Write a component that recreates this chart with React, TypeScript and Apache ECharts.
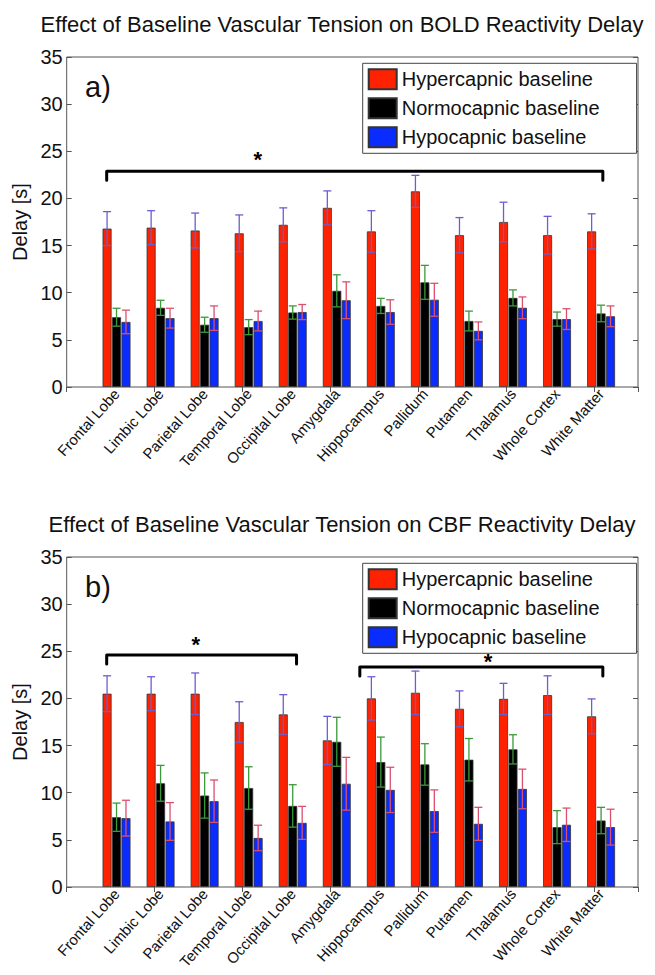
import React, { useEffect, useRef } from 'react';
import * as echarts from 'echarts';

const categories = [
  'Frontal Lobe', 'Limbic Lobe', 'Parietal Lobe', 'Temporal Lobe', 'Occipital Lobe', 'Amygdala',
  'Hippocampus', 'Pallidum', 'Putamen', 'Thalamus', 'Whole Cortex', 'White Matter',
];
const seriesNames = ['Hypercapnic baseline', 'Normocapnic baseline', 'Hypocapnic baseline'];

// Panel a) BOLD reactivity delay [s]
const boldHyper = [16.8, 16.9, 16.6, 16.3, 17.2, 19.0, 16.5, 20.75, 16.1, 17.5, 16.1, 16.5];
const boldHyperErr = [1.8, 1.8, 1.85, 1.95, 1.8, 1.8, 2.2, 1.7, 1.87, 2.1, 2.0, 1.87];
const boldNormo = [7.4, 8.4, 6.6, 6.35, 7.9, 10.2, 8.6, 11.1, 7.0, 9.45, 7.2, 7.8];
const boldNormoErr = [0.95, 0.8, 0.8, 0.8, 0.7, 1.7, 0.8, 1.8, 1.05, 0.85, 0.75, 0.88];
const boldHypo = [6.9, 7.3, 7.3, 7.0, 7.95, 9.2, 7.95, 9.25, 5.95, 8.4, 7.2, 7.5];
const boldHypoErr = [1.25, 1.05, 1.3, 1.05, 0.8, 1.95, 1.3, 1.75, 0.95, 1.15, 1.1, 1.1];

// Panel b) CBF reactivity delay [s]
const cbfHyper = [20.5, 20.5, 20.5, 17.5, 18.3, 15.55, 20.0, 20.6, 18.9, 19.95, 20.35, 18.1];
const cbfHyperErr = [1.9, 1.8, 2.2, 2.15, 2.1, 2.55, 2.3, 2.3, 1.9, 1.65, 2.05, 1.85];
const cbfNormo = [7.4, 11.0, 9.7, 10.5, 8.6, 15.4, 13.25, 13.0, 13.5, 14.6, 6.35, 7.05];
const cbfNormoErr = [1.5, 1.9, 2.4, 2.25, 2.25, 2.6, 2.65, 2.2, 2.25, 1.55, 1.75, 1.4];
const cbfHypo = [7.3, 6.95, 9.1, 5.2, 6.8, 10.95, 10.3, 8.05, 6.7, 10.4, 6.6, 6.35];
const cbfHypoErr = [1.9, 2.0, 2.25, 1.35, 1.75, 2.8, 2.4, 2.25, 1.75, 2.1, 1.77, 1.9];

// significance brackets: [xStart, xEnd, level] in frame units (0..13)
const boldBrackets = [[0.91, 12.2, 22.87]];
const cbfBrackets = [[0.91, 5.23, 24.6], [6.67, 12.2, 23.33]];
// significance stars: [x, y] in frame units
const boldStars = [[4.35, 24.1]];
const cbfStars = [[2.94, 25.7], [9.59, 23.9]];

const FONT = '"Liberation Sans", Arial, Helvetica, sans-serif';
const NARROW = '"Liberation Sans Narrow", "Arial Narrow", "Liberation Sans", sans-serif';
const barColors = ['#ff2200', '#000000', '#0a2cff'];
const errColors = ['#6a5fd0', '#3a9a3a', '#d9506f'];

const panels = [
  {
    title: 'Effect of Baseline Vascular Tension on BOLD Reactivity Delay',
    tag: 'a)',
    values: [boldHyper, boldNormo, boldHypo],
    errs: [boldHyperErr, boldNormoErr, boldHypoErr],
    brackets: boldBrackets,
    stars: boldStars,
    dy: 0,
  },
  {
    title: 'Effect of Baseline Vascular Tension on CBF Reactivity Delay',
    tag: 'b)',
    values: [cbfHyper, cbfNormo, cbfHypo],
    errs: [cbfHyperErr, cbfNormoErr, cbfHypoErr],
    brackets: cbfBrackets,
    stars: cbfStars,
    dy: 500,
  },
];

function buildOption() {
  const grid: any[] = [];
  const xAxis: any[] = [];
  const yAxis: any[] = [];
  const series: any[] = [];
  const legend: any[] = [];
  const graphic: any[] = [];

  panels.forEach((p) => {
    const top = 57 + p.dy;
    const gFrame = grid.length;
    grid.push({ left: 66.7, top, width: 571.3, height: 330, show: true, borderColor: '#555', borderWidth: 1, backgroundColor: 'transparent', containLabel: false, outerBoundsMode: 'none' });
    grid.push({ left: 94.5, top, width: 528.6, height: 330, containLabel: false, outerBoundsMode: 'none' });

    const xFrame = xAxis.length;
    xAxis.push({
      gridIndex: gFrame, type: 'value', min: 0, max: 13, interval: 2, position: 'top',
      axisLine: { show: false },
      axisTick: { show: true, inside: true, length: 5, lineStyle: { color: '#555' } },
      axisLabel: { show: false }, splitLine: { show: false },
    });
    xAxis.push({
      gridIndex: gFrame + 1, type: 'category', data: categories,
      axisLine: { show: false }, axisTick: { show: false },
      axisLabel: { rotate: 48, fontSize: 15, fontFamily: NARROW, color: '#111', margin: 4, interval: 0 },
    });

    const yFrame = yAxis.length;
    yAxis.push({
      gridIndex: gFrame, type: 'value', min: 0, max: 35, interval: 5,
      axisLine: { show: false },
      axisTick: { show: true, inside: true, length: 5, lineStyle: { color: '#555' } },
      axisLabel: { fontSize: 20, fontFamily: FONT, color: '#111', margin: 4 },
      splitLine: { show: false },
      name: 'Delay [s]', nameLocation: 'middle', nameGap: 35, nameRotate: 90,
      nameTextStyle: { fontSize: 20, fontFamily: FONT, color: '#111' },
    });
    yAxis.push({
      gridIndex: gFrame, type: 'value', position: 'right', min: 0, max: 35, interval: 5,
      axisLine: { show: false },
      axisTick: { show: true, inside: true, length: 5, lineStyle: { color: '#555' } },
      axisLabel: { show: false }, splitLine: { show: false },
    });
    yAxis.push({ gridIndex: gFrame + 1, type: 'value', min: 0, max: 35, show: false });

    p.values.forEach((vals, s) => {
      series.push({
        type: 'bar', name: seriesNames[s], xAxisIndex: xFrame + 1, yAxisIndex: yFrame + 2,
        data: vals, barWidth: 9, barGap: '5%',
        itemStyle: { color: barColors[s], borderColor: '#333', borderWidth: 0.8 },
        z: 2,
      });
    });
    p.values.forEach((vals, s) => {
      const errs = p.errs[s];
      const offset = (s - 1) * 9.45;
      const color = errColors[s];
      series.push({
        type: 'custom', xAxisIndex: xFrame + 1, yAxisIndex: yFrame + 2, silent: true, z: 3,
        data: vals.map((v, i) => [i, v - errs[i], v + errs[i]]),
        encode: { x: 0, y: [1, 2] },
        renderItem: (params: any, api: any) => {
          const idx = api.value(0);
          const lo = api.coord([idx, api.value(1)]);
          const hi = api.coord([idx, api.value(2)]);
          const x = lo[0] + offset;
          const hw = 4;
          const style = { stroke: color, lineWidth: 1.3 };
          return {
            type: 'group',
            children: [
              { type: 'line', shape: { x1: x, y1: hi[1], x2: x, y2: lo[1] }, style },
              { type: 'line', shape: { x1: x - hw, y1: hi[1], x2: x + hw, y2: hi[1] }, style },
              { type: 'line', shape: { x1: x - hw, y1: lo[1], x2: x + hw, y2: lo[1] }, style },
            ],
          };
        },
      });
    });

    series.push({
      type: 'custom', xAxisIndex: xFrame, yAxisIndex: yFrame, silent: true, z: 4,
      data: p.brackets,
      encode: { x: [0, 1], y: 2 },
      renderItem: (params: any, api: any) => {
        const a = api.coord([api.value(0), api.value(2)]);
        const b = api.coord([api.value(1), api.value(2)]);
        const drop = 9;
        return {
          type: 'polyline',
          shape: { points: [[a[0], a[1] + drop], [a[0], a[1]], [b[0], b[1]], [b[0], b[1] + drop]] },
          style: { stroke: '#000', lineWidth: 3, fill: 'none', lineJoin: 'round', lineCap: 'round' },
        };
      },
    });
    series.push({
      type: 'custom', xAxisIndex: xFrame, yAxisIndex: yFrame, silent: true, z: 4,
      data: p.stars,
      encode: { x: 0, y: 1 },
      renderItem: (params: any, api: any) => {
        const pt = api.coord([api.value(0), api.value(1)]);
        return {
          type: 'text', x: pt[0], y: pt[1],
          style: { text: '*', fontSize: 22, fontWeight: 'bold', fontFamily: FONT, fill: '#000', align: 'center', verticalAlign: 'middle' },
        };
      },
    });

    legend.push({
      left: 362.7, top: 63.3 + p.dy, orient: 'vertical',
      itemWidth: 28, itemHeight: 20, itemGap: 7,
      padding: [5, 37, 5, 5],
      borderColor: '#444', borderWidth: 1, backgroundColor: '#fff',
      icon: 'rect', selectedMode: false,
      textStyle: { fontSize: 20, fontFamily: FONT, color: '#111' },
      data: seriesNames,
    });

    graphic.push({
      type: 'text', x: 342, y: 24 + p.dy,
      style: { text: p.title, fontSize: 22, fontFamily: FONT, fill: '#111', align: 'center', verticalAlign: 'middle' },
    });
    graphic.push({
      type: 'text', x: 85, y: 87 + p.dy,
      style: { text: p.tag, fontSize: 29, fontFamily: FONT, fill: '#111', align: 'left', verticalAlign: 'middle' },
    });
  });

  return { animation: false, backgroundColor: '#fff', grid, xAxis, yAxis, series, legend, graphic };
}

export default function App() {
  const ref = useRef<HTMLDivElement>(null);
  useEffect(() => {
    document.body.style.margin = '0';
    if (!ref.current) return;
    const chart = echarts.init(ref.current, undefined, { renderer: 'svg' });
    chart.setOption(buildOption() as any);
    return () => chart.dispose();
  }, []);
  return <div ref={ref} style={{ width: 655, height: 975 }} />;
}
